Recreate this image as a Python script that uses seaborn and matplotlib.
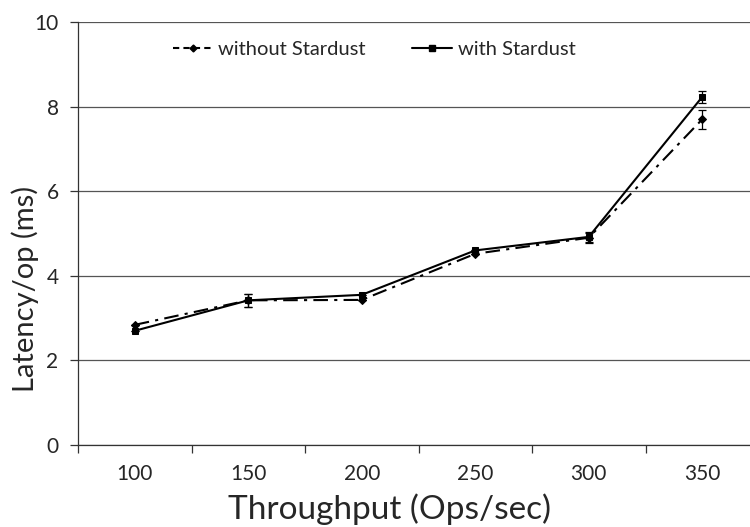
import matplotlib
matplotlib.use("Agg")
import matplotlib.pyplot as plt
import seaborn as sns
import pandas as pd
import numpy as np
from matplotlib.lines import Line2D

throughput = ["100", "150", "200", "250", "300", "350"]
without_stardust = [2.84, 3.42, 3.43, 4.52, 4.90, 7.70]
without_err = [0.0, 0.15, 0.0, 0.0, 0.12, 0.22]
with_stardust = [2.70, 3.42, 3.55, 4.60, 4.92, 8.23]
with_err = [0.0, 0.15, 0.0, 0.0, 0.12, 0.15]
y_ticks = [0, 2, 4, 6, 8, 10]

sns.set_theme(style="white")
plt.rcParams["font.family"] = ["Lato", "DejaVu Sans"]

fig = plt.figure(figsize=(7.5, 5.27), dpi=100)
ax = fig.add_axes([78 / 750, 1 - 445 / 527, 681 / 750, 423 / 527])

pos = np.arange(len(throughput))
df = pd.DataFrame({
    "pos": np.concatenate([pos, pos]),
    "latency": without_stardust + with_stardust,
    "series": ["without Stardust"] * len(pos) + ["with Stardust"] * len(pos),
})

sns.lineplot(data=df[df.series == "without Stardust"], x="pos", y="latency",
             ax=ax, color="black", lw=1.5, marker="D", markersize=4,
             dashes=False, linestyle=(0, (7, 3, 1.5, 3)), legend=False,
             markeredgecolor="black")
sns.lineplot(data=df[df.series == "with Stardust"], x="pos", y="latency",
             ax=ax, color="black", lw=1.5, marker="s", markersize=5,
             legend=False, markeredgecolor="black")

ax.errorbar(pos, without_stardust, yerr=without_err, fmt="none",
            ecolor="black", elinewidth=0.9, capsize=3, capthick=0.9)
ax.errorbar(pos, with_stardust, yerr=with_err, fmt="none",
            ecolor="black", elinewidth=0.9, capsize=3, capthick=0.9)

ax.set_xlim(-0.5, len(pos) - 0.5)
ax.set_ylim(0, 10)
ax.set_yticks(y_ticks)
ax.set_yticklabels([str(v) for v in y_ticks], fontsize=15)
ax.set_xticks(pos)
ax.set_xticklabels(throughput, fontsize=15)
ax.set_xticks(np.arange(-0.5, len(pos), 1.0), minor=True)
ax.tick_params(axis="x", which="major", length=0, pad=14)
ax.tick_params(axis="x", which="minor", length=6, width=0.9, color="#333333", direction="out", bottom=True)
ax.tick_params(axis="y", length=6, width=0.9, color="#333333", direction="out", left=True, pad=8)

ax.grid(axis="y", color="#555555", lw=0.9)
ax.grid(axis="x", visible=False)
for side in ["top", "right"]:
    ax.spines[side].set_visible(False)
for side in ["left", "bottom"]:
    ax.spines[side].set_color("#333333")
    ax.spines[side].set_linewidth(0.9)

ax.set_xlabel("Throughput (Ops/sec)", fontsize=24)
ax.set_ylabel("Latency/op (ms)", fontsize=21)
ax.xaxis.label.set_va("center")
ax.yaxis.label.set_va("center")
ax.xaxis.set_label_coords(0.458, -0.152)
ax.yaxis.set_label_coords(-0.078, 0.368)

handles = [
    Line2D([], [], color="black", lw=1.5, linestyle=(0, (3, 2)), marker="D", markersize=3.5),
    Line2D([], [], color="black", lw=1.5, marker="s", markersize=4.5),
]
ax.legend(handles, ["without Stardust", "with Stardust"], ncol=2, frameon=False,
          loc="upper left", bbox_to_anchor=(0.113, 0.997), fontsize=14.5,
          handlelength=2.0, handletextpad=0.25, columnspacing=2.3)

fig.savefig("out.png", dpi=100)
